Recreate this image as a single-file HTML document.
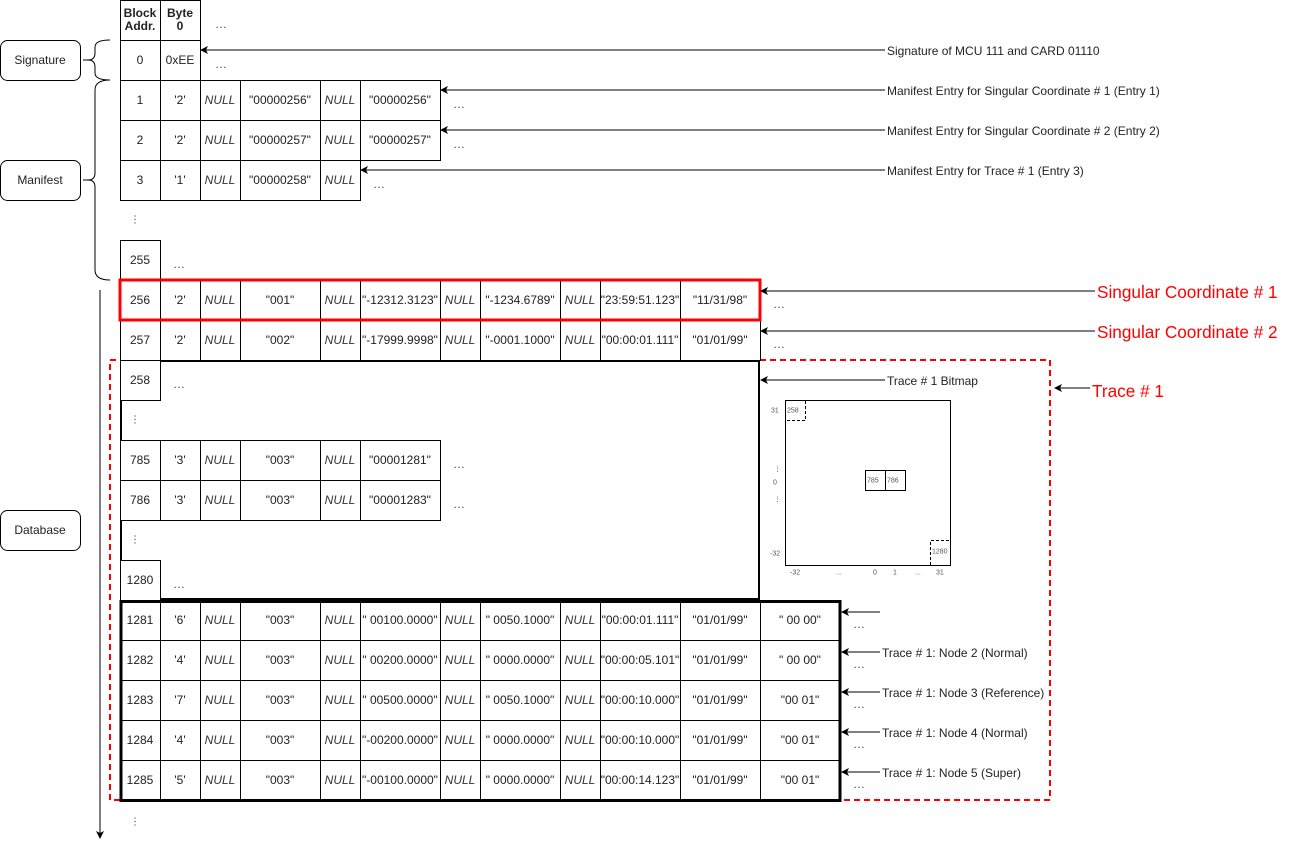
<!DOCTYPE html>
<html><head><meta charset="utf-8"><style>
html,body{margin:0;padding:0;background:#fff;}
svg{display:block;font-family:"Liberation Sans",Arial,sans-serif;}
.c{font-size:12px;fill:#222;text-anchor:middle;dominant-baseline:central;}
.i{font-style:italic;fill:#333;}
.l{font-size:12px;fill:#222;dominant-baseline:central;}
.r{font-size:17.2px;fill:#f00;dominant-baseline:central;}
.s{font-size:7px;fill:#555;dominant-baseline:central;}
.d{font-size:12px;fill:#444;}
rect{fill:#fff;stroke:#000;stroke-width:1;}
</style></head><body>
<svg width="1296" height="850" viewBox="0 0 1296 850" xmlns="http://www.w3.org/2000/svg">
<defs><marker id="a" markerWidth="8" markerHeight="8" refX="7" refY="4" orient="auto" markerUnits="userSpaceOnUse"><path d="M0,0 L8,4 L0,8 L2,4 z" fill="#000"/></marker></defs>

<rect x="110" y="360" width="940" height="440" style="fill:none;stroke:#f00;stroke-width:2;stroke-dasharray:6,4"/>

<rect x="0.5" y="40.5" width="80" height="40" rx="7" />
<text class="c" x="40" y="60">Signature</text>
<rect x="0.5" y="160.5" width="80" height="40" rx="7" />
<text class="c" x="40" y="180">Manifest</text>
<rect x="0.5" y="510.5" width="80" height="40" rx="7" />
<text class="c" x="40" y="530">Database</text>
<path d="M83,60 H88 Q95,60 95,53 V47 Q95,40 110,40 M88,60 Q95,60 95,67 V73 Q95,80 110,80" fill="none" stroke="#000"/>
<path d="M83,180 H88 Q95,180 95,173 V90 Q95,80 110,80 M88,180 Q95,180 95,187 V270 Q95,280 110,280" fill="none" stroke="#000"/>
<line x1="100" y1="290" x2="100" y2="838" stroke="#000" marker-end="url(#a)"/>

<g>
<rect x="120.5" y="0.5" width="40" height="40"/><rect x="160.5" y="0.5" width="40" height="40"/>
<text class="c" x="140" y="13" style="font-weight:bold">Block</text><text class="c" x="140" y="26" style="font-weight:bold">Addr.</text>
<text class="c" x="180" y="13" style="font-weight:bold">Byte</text><text class="c" x="180" y="26" style="font-weight:bold">0</text>
<text class="d" x="215" y="28">…</text>
<rect x="120.5" y="40.5" width="40" height="40"/><rect x="160.5" y="40.5" width="40" height="40"/>
<text class="c" x="140" y="60">0</text><text class="c" x="180" y="60">0xEE</text>
<text class="d" x="215" y="68">…</text>

<rect x="120.5" y="80.5" width="40" height="40"/><rect x="160.5" y="80.5" width="40" height="40"/><rect x="200.5" y="80.5" width="40" height="40"/><rect x="240.5" y="80.5" width="80" height="40"/><rect x="320.5" y="80.5" width="40" height="40"/><rect x="360.5" y="80.5" width="80" height="40"/>
<text class="c" x="140" y="100">1</text><text class="c" x="180" y="100">'2'</text><text class="c i" x="220" y="100">NULL</text><text class="c" x="280" y="100">"00000256"</text><text class="c i" x="340" y="100">NULL</text><text class="c" x="400" y="100">"00000256"</text>
<text class="d" x="453" y="108">…</text>
<rect x="120.5" y="120.5" width="40" height="40"/><rect x="160.5" y="120.5" width="40" height="40"/><rect x="200.5" y="120.5" width="40" height="40"/><rect x="240.5" y="120.5" width="80" height="40"/><rect x="320.5" y="120.5" width="40" height="40"/><rect x="360.5" y="120.5" width="80" height="40"/>
<text class="c" x="140" y="140">2</text><text class="c" x="180" y="140">'2'</text><text class="c i" x="220" y="140">NULL</text><text class="c" x="280" y="140">"00000257"</text><text class="c i" x="340" y="140">NULL</text><text class="c" x="400" y="140">"00000257"</text>
<text class="d" x="453" y="148">…</text>
<rect x="120.5" y="160.5" width="40" height="40"/><rect x="160.5" y="160.5" width="40" height="40"/><rect x="200.5" y="160.5" width="40" height="40"/><rect x="240.5" y="160.5" width="80" height="40"/><rect x="320.5" y="160.5" width="40" height="40"/>
<text class="c" x="140" y="180">3</text><text class="c" x="180" y="180">'1'</text><text class="c i" x="220" y="180">NULL</text><text class="c" x="280" y="180">"00000258"</text><text class="c i" x="340" y="180">NULL</text>
<text class="d" x="373" y="188">…</text>
<text class="c" x="135" y="220" style="font-size:10px">⋮</text>
<rect x="120.5" y="240.5" width="40" height="40"/><text class="c" x="140" y="260">255</text>
<text class="d" x="173" y="268">…</text>
</g>

<g>
<rect x="120.5" y="280.5" width="40" height="40"/><rect x="160.5" y="280.5" width="40" height="40"/><rect x="200.5" y="280.5" width="40" height="40"/><rect x="240.5" y="280.5" width="80" height="40"/><rect x="320.5" y="280.5" width="40" height="40"/><rect x="360.5" y="280.5" width="80" height="40"/><rect x="440.5" y="280.5" width="40" height="40"/><rect x="480.5" y="280.5" width="80" height="40"/><rect x="560.5" y="280.5" width="40" height="40"/><rect x="600.5" y="280.5" width="80" height="40"/><rect x="680.5" y="280.5" width="80" height="40"/>
<text class="c" x="140" y="300">256</text><text class="c" x="180" y="300">'2'</text><text class="c i" x="220" y="300">NULL</text><text class="c" x="280" y="300">"001"</text><text class="c i" x="340" y="300">NULL</text><text class="c" x="400" y="300">"-12312.3123"</text><text class="c i" x="460" y="300">NULL</text><text class="c" x="520" y="300">"-1234.6789"</text><text class="c i" x="580" y="300">NULL</text><text class="c" x="640" y="300">"23:59:51.123"</text><text class="c" x="720" y="300">"11/31/98"</text>
<rect x="120.5" y="320.5" width="40" height="40"/><rect x="160.5" y="320.5" width="40" height="40"/><rect x="200.5" y="320.5" width="40" height="40"/><rect x="240.5" y="320.5" width="80" height="40"/><rect x="320.5" y="320.5" width="40" height="40"/><rect x="360.5" y="320.5" width="80" height="40"/><rect x="440.5" y="320.5" width="40" height="40"/><rect x="480.5" y="320.5" width="80" height="40"/><rect x="560.5" y="320.5" width="40" height="40"/><rect x="600.5" y="320.5" width="80" height="40"/><rect x="680.5" y="320.5" width="80" height="40"/>
<text class="c" x="140" y="340">257</text><text class="c" x="180" y="340">'2'</text><text class="c i" x="220" y="340">NULL</text><text class="c" x="280" y="340">"002"</text><text class="c i" x="340" y="340">NULL</text><text class="c" x="400" y="340">"-17999.9998"</text><text class="c i" x="460" y="340">NULL</text><text class="c" x="520" y="340">"-0001.1000"</text><text class="c i" x="580" y="340">NULL</text><text class="c" x="640" y="340">"00:00:01.111"</text><text class="c" x="720" y="340">"01/01/99"</text>
<rect x="120" y="280" width="640" height="40" style="fill:none;stroke:#f00;stroke-width:3"/>
<text class="d" x="773" y="308">…</text><text class="d" x="773" y="348">…</text>
</g>

<g>
<rect x="121" y="361" width="638" height="238" style="stroke-width:2"/>
<rect x="120.5" y="360.5" width="40" height="40"/><text class="c" x="140" y="380">258</text><text class="d" x="173" y="388">…</text>
<text class="c" x="135" y="420" style="font-size:10px">⋮</text>
<rect x="120.5" y="440.5" width="40" height="40"/><rect x="160.5" y="440.5" width="40" height="40"/><rect x="200.5" y="440.5" width="40" height="40"/><rect x="240.5" y="440.5" width="80" height="40"/><rect x="320.5" y="440.5" width="40" height="40"/><rect x="360.5" y="440.5" width="80" height="40"/>
<text class="c" x="140" y="460">785</text><text class="c" x="180" y="460">'3'</text><text class="c i" x="220" y="460">NULL</text><text class="c" x="280" y="460">"003"</text><text class="c i" x="340" y="460">NULL</text><text class="c" x="400" y="460">"00001281"</text><text class="d" x="453" y="468">…</text>
<rect x="120.5" y="480.5" width="40" height="40"/><rect x="160.5" y="480.5" width="40" height="40"/><rect x="200.5" y="480.5" width="40" height="40"/><rect x="240.5" y="480.5" width="80" height="40"/><rect x="320.5" y="480.5" width="40" height="40"/><rect x="360.5" y="480.5" width="80" height="40"/>
<text class="c" x="140" y="500">786</text><text class="c" x="180" y="500">'3'</text><text class="c i" x="220" y="500">NULL</text><text class="c" x="280" y="500">"003"</text><text class="c i" x="340" y="500">NULL</text><text class="c" x="400" y="500">"00001283"</text><text class="d" x="453" y="508">…</text>
<text class="c" x="135" y="540" style="font-size:10px">⋮</text>
<rect x="120.5" y="560.5" width="40" height="40"/><text class="c" x="140" y="580">1280</text><text class="d" x="173" y="588">…</text>
</g>

<g>
<rect x="785.5" y="400.5" width="165" height="165"/>
<path d="M787,420.5 H805.5 V401" fill="none" stroke="#000" stroke-dasharray="3,2"/>
<text class="s" x="787" y="411">258</text>
<rect x="865.5" y="470.5" width="20" height="20"/><rect x="885.5" y="470.5" width="20" height="20"/>
<text class="s" x="867" y="481">785</text><text class="s" x="887" y="481">786</text>
<path d="M930.5,565 V540.5 H950" fill="none" stroke="#000" stroke-dasharray="3,2"/>
<text class="s" x="932" y="552">1280</text>
<text class="s" x="771" y="411">31</text><text class="s" x="774" y="470">⋮</text><text class="s" x="773" y="483">0</text><text class="s" x="774" y="500">⋮</text><text class="s" x="770" y="554">-32</text>
<text class="s" x="790" y="573">-32</text><text class="s" x="836" y="573">...</text><text class="s" x="873" y="573">0</text><text class="s" x="893" y="573">1</text><text class="s" x="915" y="573">...</text><text class="s" x="936" y="573">31</text>
</g>

<g>
<rect x="120.5" y="600.5" width="40" height="40"/><rect x="160.5" y="600.5" width="40" height="40"/><rect x="200.5" y="600.5" width="40" height="40"/><rect x="240.5" y="600.5" width="80" height="40"/><rect x="320.5" y="600.5" width="40" height="40"/><rect x="360.5" y="600.5" width="80" height="40"/><rect x="440.5" y="600.5" width="40" height="40"/><rect x="480.5" y="600.5" width="80" height="40"/><rect x="560.5" y="600.5" width="40" height="40"/><rect x="600.5" y="600.5" width="80" height="40"/><rect x="680.5" y="600.5" width="80" height="40"/><rect x="760.5" y="600.5" width="80" height="40"/>
<text class="c" x="140" y="620">1281</text><text class="c" x="180" y="620">'6'</text><text class="c i" x="220" y="620">NULL</text><text class="c" x="280" y="620">"003"</text><text class="c i" x="340" y="620">NULL</text><text class="c" x="400" y="620">" 00100.0000"</text><text class="c i" x="460" y="620">NULL</text><text class="c" x="520" y="620">" 0050.1000"</text><text class="c i" x="580" y="620">NULL</text><text class="c" x="640" y="620">"00:00:01.111"</text><text class="c" x="720" y="620">"01/01/99"</text><text class="c" x="800" y="620">" 00 00"</text>
<rect x="120.5" y="640.5" width="40" height="40"/><rect x="160.5" y="640.5" width="40" height="40"/><rect x="200.5" y="640.5" width="40" height="40"/><rect x="240.5" y="640.5" width="80" height="40"/><rect x="320.5" y="640.5" width="40" height="40"/><rect x="360.5" y="640.5" width="80" height="40"/><rect x="440.5" y="640.5" width="40" height="40"/><rect x="480.5" y="640.5" width="80" height="40"/><rect x="560.5" y="640.5" width="40" height="40"/><rect x="600.5" y="640.5" width="80" height="40"/><rect x="680.5" y="640.5" width="80" height="40"/><rect x="760.5" y="640.5" width="80" height="40"/>
<text class="c" x="140" y="660">1282</text><text class="c" x="180" y="660">'4'</text><text class="c i" x="220" y="660">NULL</text><text class="c" x="280" y="660">"003"</text><text class="c i" x="340" y="660">NULL</text><text class="c" x="400" y="660">" 00200.0000"</text><text class="c i" x="460" y="660">NULL</text><text class="c" x="520" y="660">" 0000.0000"</text><text class="c i" x="580" y="660">NULL</text><text class="c" x="640" y="660">"00:00:05.101"</text><text class="c" x="720" y="660">"01/01/99"</text><text class="c" x="800" y="660">" 00 00"</text>
<rect x="120.5" y="680.5" width="40" height="40"/><rect x="160.5" y="680.5" width="40" height="40"/><rect x="200.5" y="680.5" width="40" height="40"/><rect x="240.5" y="680.5" width="80" height="40"/><rect x="320.5" y="680.5" width="40" height="40"/><rect x="360.5" y="680.5" width="80" height="40"/><rect x="440.5" y="680.5" width="40" height="40"/><rect x="480.5" y="680.5" width="80" height="40"/><rect x="560.5" y="680.5" width="40" height="40"/><rect x="600.5" y="680.5" width="80" height="40"/><rect x="680.5" y="680.5" width="80" height="40"/><rect x="760.5" y="680.5" width="80" height="40"/>
<text class="c" x="140" y="700">1283</text><text class="c" x="180" y="700">'7'</text><text class="c i" x="220" y="700">NULL</text><text class="c" x="280" y="700">"003"</text><text class="c i" x="340" y="700">NULL</text><text class="c" x="400" y="700">" 00500.0000"</text><text class="c i" x="460" y="700">NULL</text><text class="c" x="520" y="700">" 0050.1000"</text><text class="c i" x="580" y="700">NULL</text><text class="c" x="640" y="700">"00:00:10.000"</text><text class="c" x="720" y="700">"01/01/99"</text><text class="c" x="800" y="700">"00 01"</text>
<rect x="120.5" y="720.5" width="40" height="40"/><rect x="160.5" y="720.5" width="40" height="40"/><rect x="200.5" y="720.5" width="40" height="40"/><rect x="240.5" y="720.5" width="80" height="40"/><rect x="320.5" y="720.5" width="40" height="40"/><rect x="360.5" y="720.5" width="80" height="40"/><rect x="440.5" y="720.5" width="40" height="40"/><rect x="480.5" y="720.5" width="80" height="40"/><rect x="560.5" y="720.5" width="40" height="40"/><rect x="600.5" y="720.5" width="80" height="40"/><rect x="680.5" y="720.5" width="80" height="40"/><rect x="760.5" y="720.5" width="80" height="40"/>
<text class="c" x="140" y="740">1284</text><text class="c" x="180" y="740">'4'</text><text class="c i" x="220" y="740">NULL</text><text class="c" x="280" y="740">"003"</text><text class="c i" x="340" y="740">NULL</text><text class="c" x="400" y="740">"-00200.0000"</text><text class="c i" x="460" y="740">NULL</text><text class="c" x="520" y="740">" 0000.0000"</text><text class="c i" x="580" y="740">NULL</text><text class="c" x="640" y="740">"00:00:10.000"</text><text class="c" x="720" y="740">"01/01/99"</text><text class="c" x="800" y="740">"00 01"</text>
<rect x="120.5" y="760.5" width="40" height="40"/><rect x="160.5" y="760.5" width="40" height="40"/><rect x="200.5" y="760.5" width="40" height="40"/><rect x="240.5" y="760.5" width="80" height="40"/><rect x="320.5" y="760.5" width="40" height="40"/><rect x="360.5" y="760.5" width="80" height="40"/><rect x="440.5" y="760.5" width="40" height="40"/><rect x="480.5" y="760.5" width="80" height="40"/><rect x="560.5" y="760.5" width="40" height="40"/><rect x="600.5" y="760.5" width="80" height="40"/><rect x="680.5" y="760.5" width="80" height="40"/><rect x="760.5" y="760.5" width="80" height="40"/>
<text class="c" x="140" y="780">1285</text><text class="c" x="180" y="780">'5'</text><text class="c i" x="220" y="780">NULL</text><text class="c" x="280" y="780">"003"</text><text class="c i" x="340" y="780">NULL</text><text class="c" x="400" y="780">"-00100.0000"</text><text class="c i" x="460" y="780">NULL</text><text class="c" x="520" y="780">" 0000.0000"</text><text class="c i" x="580" y="780">NULL</text><text class="c" x="640" y="780">"00:00:14.123"</text><text class="c" x="720" y="780">"01/01/99"</text><text class="c" x="800" y="780">"00 01"</text>
<rect x="121" y="601.5" width="719" height="199" style="fill:none;stroke-width:3"/>
<text class="d" x="853" y="628">…</text><text class="d" x="853" y="668">…</text><text class="d" x="853" y="708">…</text><text class="d" x="853" y="748">…</text><text class="d" x="853" y="788">…</text>
<text class="c" x="135" y="822" style="font-size:10px">⋮</text>
</g>

<g stroke="#000" stroke-width="1">
<line x1="885" y1="50" x2="201" y2="50" marker-end="url(#a)"/>
<line x1="885" y1="90" x2="441" y2="90" marker-end="url(#a)"/>
<line x1="885" y1="130" x2="441" y2="130" marker-end="url(#a)"/>
<line x1="885" y1="170" x2="361" y2="170" marker-end="url(#a)"/>
<line x1="1095" y1="291" x2="761" y2="291" marker-end="url(#a)"/>
<line x1="1095" y1="331" x2="761" y2="331" marker-end="url(#a)"/>
<line x1="885" y1="380" x2="761" y2="380" marker-end="url(#a)"/>
<line x1="1090" y1="388" x2="1055" y2="388" marker-end="url(#a)"/>
<line x1="880" y1="612" x2="842" y2="612" marker-end="url(#a)"/>
<line x1="880" y1="652" x2="842" y2="652" marker-end="url(#a)"/>
<line x1="880" y1="692" x2="842" y2="692" marker-end="url(#a)"/>
<line x1="880" y1="732" x2="842" y2="732" marker-end="url(#a)"/>
<line x1="880" y1="772" x2="842" y2="772" marker-end="url(#a)"/>
</g>
<text class="l" x="887" y="51">Signature of MCU 111 and CARD 01110</text>
<text class="l" x="887" y="91">Manifest Entry for Singular Coordinate # 1 (Entry 1)</text>
<text class="l" x="887" y="131">Manifest Entry for Singular Coordinate # 2 (Entry 2)</text>
<text class="l" x="887" y="171">Manifest Entry for Trace # 1 (Entry 3)</text>
<text class="l" x="887" y="381">Trace # 1 Bitmap</text>
<text class="r" x="1097" y="292">Singular Coordinate # 1</text>
<text class="r" x="1097" y="332">Singular Coordinate # 2</text>
<text class="r" x="1092" y="391">Trace # 1</text>
<text class="l" x="882" y="653">Trace # 1: Node 2 (Normal)</text>
<text class="l" x="882" y="693">Trace # 1: Node 3 (Reference)</text>
<text class="l" x="882" y="733">Trace # 1: Node 4 (Normal)</text>
<text class="l" x="882" y="773">Trace # 1: Node 5 (Super)</text>
</svg>
</body></html>
